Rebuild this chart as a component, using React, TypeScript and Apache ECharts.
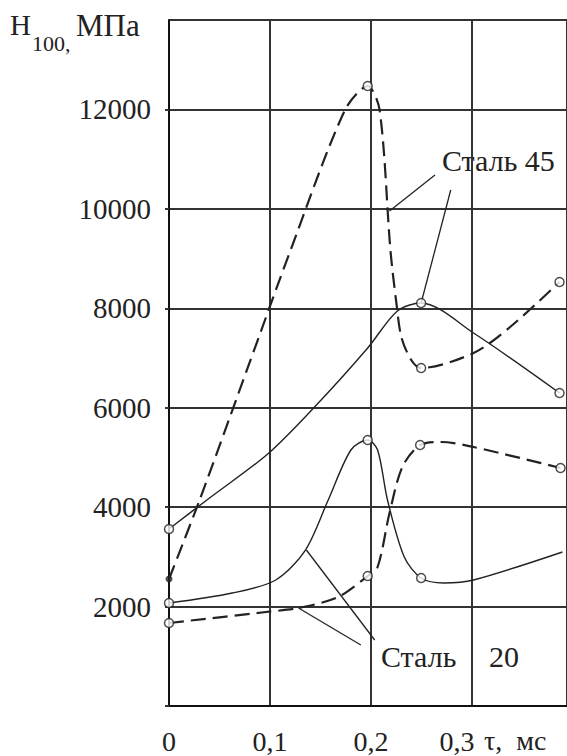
import React, { useEffect, useRef } from "react";
import * as echarts from "echarts";

// Axis ticks
const xTickValues = [0, 0.1, 0.2, 0.3];
const xTickLabels = ["0", "0,1", "0,2", "0,3"];
const yTickValues = [2000, 4000, 6000, 8000, 10000, 12000];
const yTickLabels = ["2000", "4000", "6000", "8000", "10000", "12000"];

// Сталь 45 — dashed curve (τ, H100)
const steel45Dashed: [number, number][] = [
  [0, 2555], [0.0303, 4144], [0.0793, 6880], [0.1204, 9173],
  [0.1742, 11990], [0.1967, 12472], [0.2085, 11990],
  [0.2192, 9173], [0.2251, 8107], [0.23, 7423], [0.2398, 6960], [0.2496, 6800],
  [0.3015, 7101], [0.3377, 7624], [0.3866, 8530],
];
const steel45DashedMarks: [number, number][] = [
  [0.1967, 12472], [0.2496, 6800], [0.3866, 8530],
];
const steel45DashedStart: [number, number][] = [[0, 2555]];

// Сталь 45 — solid curve
const steel45Solid: [number, number][] = [
  [0, 3561], [0.0401, 4184], [0.0989, 5090], [0.1478, 6095], [0.1967, 7202],
  [0.2261, 7946], [0.2496, 8107], [0.3015, 7504],
  [0.3866, 6297],
];
const steel45SolidMarks: [number, number][] = [
  [0, 3561], [0.2496, 8107], [0.3866, 6297],
];

// Сталь 20 — solid curve
const steel20Solid: [number, number][] = [
  [0, 2072], [0.0626, 2273], [0.1057, 2535],
  [0.1351, 3138], [0.1576, 4144], [0.1801, 5150], [0.1967, 5351],
  [0.2065, 5150], [0.2163, 4144], [0.2329, 2997],
  [0.2496, 2575], [0.2721, 2474], [0.3015, 2535], [0.3895, 3098],
];
const steel20SolidMarks: [number, number][] = [
  [0, 2072], [0.1967, 5351], [0.2496, 2575],
];

// Сталь 20 — dashed curve
const steel20Dashed: [number, number][] = [
  [0, 1670], [0.0959, 1891], [0.1282, 1971], [0.1674, 2193],
  [0.1967, 2615], [0.2065, 2796], [0.2183, 3882],
  [0.231, 4808], [0.2486, 5250], [0.2692, 5311],
  [0.3015, 5210], [0.3876, 4788],
];
const steel20DashedMarks: [number, number][] = [
  [0, 1670], [0.1967, 2615], [0.2486, 5250], [0.3876, 4788],
];

// Leader lines (data coordinates)
const leader45a: [number, number][] = [[0.2633, 10682], [0.2183, 9958]];
const leader45b: [number, number][] = [[0.2789, 10380], [0.2496, 8107]];
const leader20a: [number, number][] = [[0.136, 3138], [0.2036, 1328]];
const leader20b: [number, number][] = [[0.1282, 1971], [0.1899, 1227]];

const FONT = "Liberation Serif, Times New Roman, serif";
const INK = "#222";

export default function App() {
  const ref = useRef<HTMLDivElement>(null);

  useEffect(() => {
    if (!ref.current) return;
    const chart = echarts.init(ref.current, undefined, { renderer: "svg" });

    const curve = (data: [number, number][], dashed: boolean) => ({
      type: "line",
      data,
      smooth: 0.3,
      symbol: "none",
      lineStyle: {
        color: INK,
        width: dashed ? 2.2 : 1.4,
        type: dashed ? [15, 7] : "solid",
      },
      z: 3,
      silent: true,
    });
    const leader = (data: [number, number][]) => ({
      type: "line",
      data,
      symbol: "none",
      lineStyle: { color: INK, width: 1.3 },
      z: 3,
      silent: true,
    });
    const marks = (data: [number, number][]) => ({
      type: "scatter",
      data,
      symbol: "circle",
      symbolSize: 9,
      itemStyle: { color: "#fff", borderColor: INK, borderWidth: 1.5 },
      z: 5,
      silent: true,
    });

    chart.setOption({
      animation: false,
      backgroundColor: "#fff",
      grid: { left: 169, right: -4, top: 20, bottom: 50, containLabel: false },
      xAxis: {
        type: "value",
        min: 0,
        max: 0.394,
        interval: 0.1,
        axisLine: { show: true, onZero: false, lineStyle: { color: "#111", width: 2 } },
        axisTick: { show: false },
        splitLine: { show: true, lineStyle: { color: "#333", width: 2 } },
        axisLabel: {
          showMaxLabel: false,
          margin: 21,
          color: INK,
          fontFamily: FONT,
          fontSize: 28,
          formatter: (v: number) => {
            const i = xTickValues.findIndex((t) => Math.abs(t - v) < 1e-6);
            if (i < 0) return "";
            return i === 3 ? "{s|" + xTickLabels[i] + "}" : xTickLabels[i];
          },
          rich: {
            s: { fontFamily: FONT, fontSize: 28, color: INK, padding: [0, 30, 0, 0] },
          },
        },
      },
      yAxis: {
        type: "value",
        min: 0,
        max: 13800,
        interval: 2000,
        axisLine: { show: true, lineStyle: { color: "#111", width: 2 } },
        axisTick: { show: true, length: 4, lineStyle: { color: "#333", width: 2 } },
        splitLine: { show: true, lineStyle: { color: "#333", width: 2 } },
        axisLabel: {
          showMaxLabel: false,
          margin: 18,
          color: INK,
          fontFamily: FONT,
          fontSize: 29,
          formatter: (v: number) => {
            const i = yTickValues.indexOf(v);
            return i < 0 ? "" : yTickLabels[i];
          },
        },
      },
      graphic: [
        { type: "text", left: 10, top: 10, style: { text: "H", font: `29px ${FONT}`, fill: INK } },
        { type: "text", left: 32, top: 32, style: { text: "100,", font: `22px ${FONT}`, fill: INK } },
        { type: "text", left: 76, top: 10, style: { text: "МПа", font: `31px ${FONT}`, fill: INK } },
        { type: "text", left: 484, top: 726, style: { text: "τ,  мс", font: `28px ${FONT}`, fill: INK } },
        { type: "text", left: 442, top: 145, style: { text: "Сталь 45", font: `30px ${FONT}`, fill: INK, backgroundColor: "#fff" } },
        { type: "text", left: 381, top: 641, style: { text: "Сталь", font: `30px ${FONT}`, fill: INK } },
        { type: "text", left: 489, top: 641, style: { text: "20", font: `30px ${FONT}`, fill: INK } },
      ],
      series: [
        curve(steel45Dashed, true),
        curve(steel45Solid, false),
        curve(steel20Solid, false),
        curve(steel20Dashed, true),
        leader(leader45a),
        leader(leader45b),
        leader(leader20a),
        leader(leader20b),
        marks(steel45DashedMarks),
        marks(steel45SolidMarks),
        marks(steel20SolidMarks),
        marks(steel20DashedMarks),
        {
          type: "scatter",
          data: steel45DashedStart,
          symbol: "circle",
          symbolSize: 7,
          itemStyle: { color: INK },
          z: 5,
          silent: true,
        },
      ],
    });

    return () => chart.dispose();
  }, []);

  return (
    <div
      ref={ref}
      style={{ position: "fixed", left: 0, top: 0, width: 567, height: 756, background: "#fff" }}
    />
  );
}
